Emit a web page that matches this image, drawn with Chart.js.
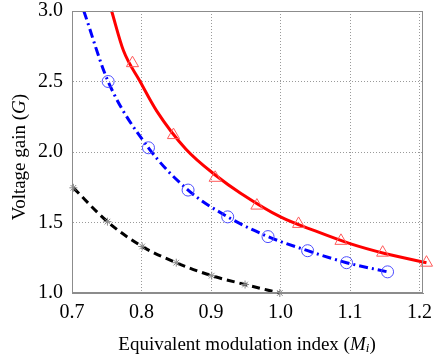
<!DOCTYPE html>
<html>
<head>
<meta charset="utf-8">
<script src="https://cdn.jsdelivr.net/npm/chart.js@4.4.1/dist/chart.umd.min.js"></script>
<style>
  html, body { margin: 0; padding: 0; background: #fff; }
  #wrap { width: 434px; height: 358px; }
</style>
</head>
<body>
<div id="wrap"><canvas id="chart"></canvas></div>
<script>
// ---- data ----
const xTicks = [0.7, 0.8, 0.9, 1.0, 1.1, 1.2];
const yTicks = [1.0, 1.5, 2.0, 2.5, 3.0];

// red solid curve + triangle markers
const redLineX = [0.757, 0.774, 0.798, 0.822, 0.864, 0.908, 0.942, 1.0, 1.05, 1.1, 1.15, 1.2, 1.21];
const redLineY = [3.0, 2.72, 2.50, 2.29, 2.02, 1.83, 1.71, 1.54, 1.44, 1.35, 1.28, 1.225, 1.215];
const triX = [0.787, 0.846, 0.906, 0.966, 1.026, 1.087, 1.147, 1.21];
const triY = [2.63, 2.12, 1.817, 1.62, 1.49, 1.37, 1.286, 1.215];

// blue dash-dot curve + circle markers
const blueLineX = [0.717, 0.752, 0.81, 0.867, 0.924, 0.982, 1.039, 1.095, 1.154];
const blueLineY = [3.0, 2.5, 2.03, 1.73, 1.54, 1.40, 1.30, 1.215, 1.15];
const circX = [0.752, 0.81, 0.867, 0.924, 0.982, 1.039, 1.095, 1.154];
const circY = [2.5, 2.03, 1.73, 1.54, 1.40, 1.30, 1.215, 1.15];

// black dashed curve + star markers
const blackX = [0.702, 0.751, 0.801, 0.85, 0.901, 0.949, 0.999];
const blackY = [1.746, 1.506, 1.33, 1.215, 1.123, 1.06, 1.0];

const pts = (xs, ys) => xs.map((x, i) => ({ x, y: ys[i] }));
const FONT = '"Liberation Serif", "Times New Roman", serif';

// frame + axis titles with italic parts
const decor = {
  id: 'decor',
  afterDraw(chart) {
    const { ctx, chartArea: a } = chart;
    ctx.save();
    ctx.strokeStyle = '#8c8c8c';
    ctx.lineWidth = 1;
    ctx.strokeRect(a.left + 0.5, a.top + 0.5, a.right - a.left - 1, a.bottom - a.top - 1);

    ctx.fillStyle = '#000';
    ctx.textBaseline = 'middle';
    // x title
    const parts = [
      ['Equivalent modulation index (', '19px ' + FONT],
      ['M', 'italic 19px ' + FONT],
      ['i', 'italic 13px ' + FONT, 4],
      [')', '19px ' + FONT]
    ];
    let total = 0;
    parts.forEach(p => { ctx.font = p[1]; total += ctx.measureText(p[0]).width; });
    let x = 247 - total / 2;
    parts.forEach(p => {
      ctx.font = p[1];
      ctx.textAlign = 'left';
      ctx.fillText(p[0], x, 345 + (p[2] || 0));
      x += ctx.measureText(p[0]).width;
    });

    // y title (rotated)
    ctx.translate(20, 157);
    ctx.rotate(-Math.PI / 2);
    const yparts = [
      ['Voltage gain (', '19px ' + FONT],
      ['G', 'italic 19px ' + FONT],
      [')', '19px ' + FONT]
    ];
    total = 0;
    yparts.forEach(p => { ctx.font = p[1]; total += ctx.measureText(p[0]).width; });
    x = -total / 2;
    yparts.forEach(p => {
      ctx.font = p[1];
      ctx.fillText(p[0], x, 0);
      x += ctx.measureText(p[0]).width;
    });
    ctx.restore();
  }
};

new Chart(document.getElementById('chart'), {
  type: 'scatter',
  data: {
    datasets: [
      {
        type: 'line', data: pts(redLineX, redLineY),
        borderColor: '#ff0000', borderWidth: 3, pointRadius: 0,
        cubicInterpolationMode: 'monotone', clip: false, order: 2
      },
      {
        data: pts(triX, triY), pointStyle: 'triangle', pointRadius: 7,
        borderColor: '#ff5a5a', borderWidth: 1, backgroundColor: 'rgba(0,0,0,0)',
        clip: false, order: 1
      },
      {
        type: 'line', data: pts(blueLineX, blueLineY),
        borderColor: '#0000ff', borderWidth: 3, borderDash: [9, 4, 2, 4], pointRadius: 0,
        cubicInterpolationMode: 'monotone', order: 2
      },
      {
        data: pts(circX, circY), pointStyle: 'circle', pointRadius: 6,
        borderColor: '#4d4dff', borderWidth: 1, backgroundColor: 'rgba(0,0,0,0)', order: 1
      },
      {
        type: 'line', data: pts(blackX, blackY),
        borderColor: '#000000', borderWidth: 3, borderDash: [8, 5], pointRadius: 4,
        pointStyle: 'star', pointBorderColor: '#888', pointBorderWidth: 1,
        cubicInterpolationMode: 'monotone', clip: false, order: 2
      }
    ]
  },
  options: {
    responsive: true, maintainAspectRatio: false, animation: false,
    layout: { padding: { left: 0, right: 11, top: 11, bottom: 0 } },
    plugins: { legend: { display: false }, tooltip: { enabled: false } },
    scales: {
      x: {
        type: 'linear', min: 0.7, max: 1.205,
        afterBuildTicks: (s) => { s.ticks = xTicks.map(v => ({ value: v })); },
        afterFit: (s) => { s.height = 65; s.paddingLeft = 0; s.paddingRight = 0; },
        ticks: { color: '#000', font: { family: FONT, size: 20 }, padding: 8, maxRotation: 0,
                 callback: (v) => v.toFixed(1) },
        grid: { color: '#9a9a9a', lineWidth: 1, drawTicks: false },
        border: { color: '#8c8c8c', dash: [1, 2] }
      },
      y: {
        type: 'linear', min: 1.0, max: 3.0,
        afterBuildTicks: (s) => { s.ticks = yTicks.map(v => ({ value: v })); },
        afterFit: (s) => { s.width = 72; s.paddingTop = 0; s.paddingBottom = 0; },
        ticks: { color: '#000', font: { family: FONT, size: 20 }, padding: 9,
                 callback: (v) => v.toFixed(1) },
        grid: { color: '#9a9a9a', lineWidth: 1, drawTicks: false },
        border: { color: '#8c8c8c', dash: [1, 2] }
      }
    }
  },
  plugins: [decor]
});
</script>
</body>
</html>
